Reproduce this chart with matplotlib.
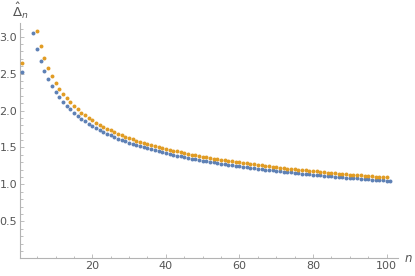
import numpy as np
import matplotlib
matplotlib.use("Agg")
import matplotlib.pyplot as plt
from matplotlib.ticker import MultipleLocator

# valores (n = 1 e depois de 4 / 5 em diante)
n_blue = [1] + list(range(4, 102))
blue = [2.524,
        3.048, 2.831, 2.666, 2.533, 2.424, 2.331, 2.252, 2.182, 2.120, 2.064,
        2.014, 1.969, 1.927, 1.889, 1.854, 1.821, 1.790, 1.762, 1.735, 1.710,
        1.686, 1.663, 1.642, 1.621, 1.602, 1.583, 1.566, 1.549, 1.533, 1.517,
        1.502, 1.488, 1.474, 1.461, 1.448, 1.436, 1.424, 1.412, 1.401, 1.390,
        1.379, 1.369, 1.359, 1.350, 1.340, 1.331, 1.322, 1.314, 1.305, 1.297,
        1.289, 1.281, 1.274, 1.266, 1.259, 1.252, 1.245, 1.238, 1.232, 1.225,
        1.219, 1.213, 1.206, 1.200, 1.195, 1.189, 1.183, 1.178, 1.172, 1.167,
        1.162, 1.157, 1.152, 1.147, 1.142, 1.137, 1.132, 1.127, 1.123, 1.118,
        1.114, 1.110, 1.105, 1.101, 1.097, 1.093, 1.089, 1.085, 1.081, 1.077,
        1.073, 1.070, 1.066, 1.062, 1.059, 1.055, 1.052, 1.048]

n_orange = [1] + list(range(5, 101))
orange = [2.646,
          3.070, 2.870, 2.711, 2.578, 2.469, 2.376, 2.297, 2.227, 2.165, 2.109,
          2.059, 2.014, 1.972, 1.934, 1.899, 1.866, 1.835, 1.807, 1.780, 1.755,
          1.731, 1.708, 1.687, 1.666, 1.647, 1.628, 1.611, 1.594, 1.578, 1.562,
          1.547, 1.533, 1.519, 1.506, 1.493, 1.481, 1.469, 1.457, 1.446, 1.435,
          1.424, 1.414, 1.404, 1.395, 1.385, 1.376, 1.367, 1.359, 1.350, 1.342,
          1.334, 1.326, 1.319, 1.311, 1.304, 1.297, 1.290, 1.283, 1.277, 1.270,
          1.264, 1.258, 1.251, 1.245, 1.240, 1.234, 1.226, 1.221, 1.215, 1.210,
          1.205, 1.200, 1.195, 1.190, 1.185, 1.180, 1.175, 1.170, 1.166, 1.161,
          1.157, 1.150, 1.145, 1.141, 1.137, 1.133, 1.129, 1.125, 1.121, 1.117,
          1.113, 1.110, 1.106, 1.102, 1.099, 1.095]

x_ticks = [20, 40, 60, 80, 100]
y_ticks = [0.5, 1.0, 1.5, 2.0, 2.5, 3.0]

BLUE = "#5e81b5"
ORANGE = "#e19c24"
AXIS = "#b3b3b3"
TXT = "#555555"

fig = plt.figure(figsize=(4.15, 2.76), dpi=100)
ax = fig.add_axes([20 / 415, 17.7 / 276, 378 / 415, 235 / 276])

ax.scatter(n_blue, blue, s=8, c=BLUE, linewidths=0, zorder=3, clip_on=False)
ax.scatter(n_orange, orange, s=8, c=ORANGE, linewidths=0, zorder=3, clip_on=False)

ax.set_xlim(0.35, 103.1)
ax.set_ylim(0, 3.18)

for side in ["top", "right"]:
    ax.spines[side].set_visible(False)
for side in ["left", "bottom"]:
    ax.spines[side].set_color(AXIS)
    ax.spines[side].set_linewidth(0.8)

ax.set_xticks(x_ticks)
ax.set_yticks(y_ticks)
ax.set_yticklabels([f"{v:.1f}" for v in y_ticks])
ax.xaxis.set_minor_locator(MultipleLocator(5))
ax.yaxis.set_minor_locator(MultipleLocator(0.1))
ax.tick_params(which="both", direction="in", color=AXIS, width=0.6,
               labelcolor=TXT, labelsize=8)
ax.tick_params(which="major", length=3, pad=2)
ax.tick_params(which="minor", length=1.8)

# rótulos dos eixos no estilo Mathematica
ax.text(1.015, 0.0, "$n$", transform=ax.transAxes, color=TXT, fontsize=8.5,
        ha="left", va="center")
fig.text(20 / 415, 1 - 11 / 276, r"$\hat{\Delta}_n$", color=TXT, fontsize=9.5,
         ha="center", va="center")

fig.savefig("out.png", dpi=100)
